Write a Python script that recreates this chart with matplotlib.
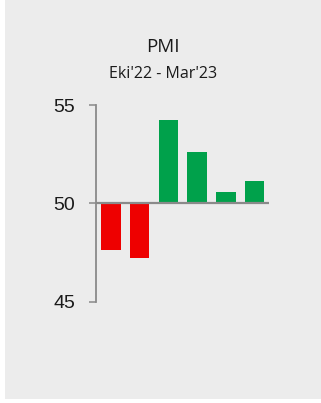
import matplotlib
matplotlib.use("Agg")
import matplotlib.pyplot as plt
from matplotlib.patches import Rectangle

# PMI readings, Oct'22 - Mar'23
months = ["Eki'22", "Kas'22", "Ara'22", "Oca'23", "Şub'23", "Mar'23"]
pmi = [47.65, 47.2, 54.25, 52.6, 50.6, 51.15]
threshold = 50
y_ticks = [45, 50, 55]

title = "PMI"
subtitle = "Eki'22 - Mar'23"

RED = "#ee0000"
GREEN = "#00a14b"
PANEL = "#ececec"
AXIS_GRAY = "#8a8a8a"

W, H = 321, 403
fig = plt.figure(figsize=(W / 100, H / 100), dpi=100, facecolor="white")

# grey card behind the chart
fig.patches.append(Rectangle((5 / W, 1 - 399 / H), 316 / W, 399 / H,
                             transform=fig.transFigure, facecolor=PANEL,
                             edgecolor="none", zorder=-5))

fig.text(163 / W, 1 - 52 / H, title, ha="center", va="baseline",
         fontsize=13.5, family="Open Sans", color="#1a1a1a")
fig.text(163 / W, 1 - 77.5 / H, subtitle, ha="center", va="baseline",
         fontsize=11.5, family="Open Sans", color="#1a1a1a")

left, right = 96 / W, 269 / W
top, bottom = 1 - 105.3 / H, 1 - 301.7 / H
ax = fig.add_axes([left, bottom, right - left, top - bottom])
ax.set_facecolor("none")
ax.set_zorder(2)

x = list(range(len(pmi)))
heights = [v - threshold for v in pmi]
colors = [GREEN if v >= threshold else RED for v in pmi]
ax.bar(x, heights, bottom=threshold, width=0.68, color=colors,
       edgecolor="none", zorder=2)

ax.axhline(threshold, color=AXIS_GRAY, linewidth=1.6, zorder=3)

ax.set_xlim(-0.52, len(pmi) - 0.5)
ax.set_ylim(45, 55)
ax.set_yticks(y_ticks)
ax.set_yticklabels([str(t) for t in y_ticks], family="Liberation Sans",
                   fontsize=14, color="#1a1a1a")
ax.set_xticks([])

for side in ("top", "right", "bottom"):
    ax.spines[side].set_visible(False)
ax.spines["left"].set_color(AXIS_GRAY)
ax.spines["left"].set_linewidth(1.3)
ax.tick_params(axis="y", direction="out", length=5, width=1.1,
               color=AXIS_GRAY, pad=10)

fig.savefig("out.png", dpi=100, facecolor="white")
